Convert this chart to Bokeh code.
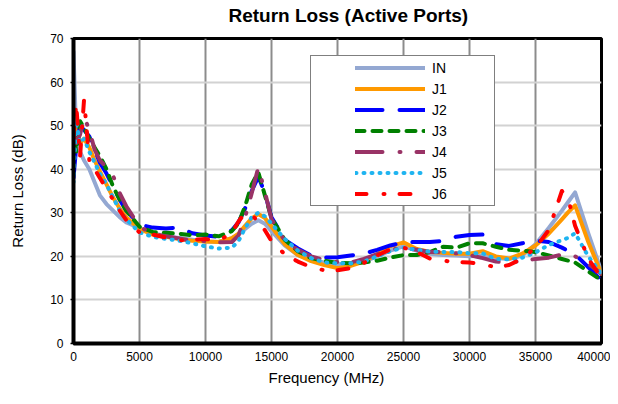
from bokeh.plotting import figure
from bokeh.models import Legend, LegendItem, FixedTicker, Title, Range1d
from bokeh.embed import file_html
from bokeh.resources import INLINE

# ---- data ----
freq = [0, 200, 500, 800, 1200, 1600, 2000, 2500, 3000, 3500, 4000,
        5000, 6000, 7000, 8000, 9000, 10000, 11000, 12000, 12500, 13000,
        13500, 14000, 14500, 15000, 16000, 17000, 18000, 19000, 20000, 21000,
        22000, 23000, 24000, 25000, 26000, 27000, 28000, 29000, 30000, 31000,
        32000, 33000, 34000, 35000, 36000, 37000, 37500, 38000, 39000, 40000]

rl_in = [67, 48, 44, 42, 40, 37, 34, 32, 30.5, 29, 27.8,
         26.5, 25.3, 24.6, 24.2, 23.8, 23.4, 23.3, 24.2, 25, 26.3,
         27.5, 28.3, 27.5, 25.8, 22.5, 20.3, 19.2, 18.6, 18.2, 18.3,
         18.8, 20, 21.3, 22.3, 21.3, 20.6, 20.3, 20.2, 20, 20.2,
         19.6, 19.4, 20.2, 22.8, 26.5, 30.5, 32.6, 34.7, 25.3, 16.5]

rl_j1 = [48, 50, 46, 47, 45, 42, 39.5, 36.5, 33.5, 31, 29,
         26.3, 25, 24.5, 24, 23.6, 23.4, 23.3, 24.2, 25.2, 27,
         28.7, 29.7, 28.8, 26.8, 22.8, 20.3, 18.9, 18, 17.3, 17.8,
         18.8, 20.5, 22.3, 23.2, 21.7, 21, 20.8, 20.6, 20.6, 21.2,
         20, 19.5, 20.6, 22.5, 25.2, 28.5, 30.2, 31.7, 23.3, 16]

rl_j2 = [38, 45, 50, 49, 47.5, 44.5, 41.5, 39, 36, 33, 30.5,
         27.3, 26.6, 26.4, 26.6, 25.3, 24.8, 24.5, 26, 27.8, 31,
         35, 38.3, 34.5, 29, 23.8, 21.8, 20.2, 19.7, 19.8, 20.2,
         20.6, 21.5, 22.5, 23.2, 23.3, 23.3, 23.5, 24.5, 24.9, 25,
         22.8, 22.4, 23, 23.6, 23.3, 22, 21.2, 20.5, 17.5, 14.5]

rl_j3 = [50, 44, 51, 49.5, 47, 45, 43, 40, 36, 33, 30.5,
         26.8, 25.6, 25.4, 25.2, 24.8, 25, 24.6, 25.8, 27.6, 31.5,
         36.5, 39.3, 34, 28.8, 23.8, 21.2, 19.6, 19, 18.5, 18.4,
         18.6, 19, 19.7, 20.3, 20.3, 21, 22.2, 22, 23, 23,
         22.2, 21.5, 21.3, 21, 20.2, 19.4, 19, 18.6, 16.5, 14.5]

rl_j4 = [48, 46, 48, 52, 49, 44.5, 42, 40.5, 38.5, 34.5, 31.5,
         26.8, 25.2, 24.6, 24.1, 23.6, 23.5, 23.2, 23.3, 24.8, 29,
         34.5, 40.4, 34.8, 28.5, 23.6, 21.5, 20, 19.2, 18.7, 18.6,
         19.4, 20.5, 21.5, 22, 21.5, 21, 21, 20.7, 20.3, 19.6,
         18.8, 18.6, 19, 19.4, 19.7, 20.4, 20.6, 20, 18.3, 16]

rl_j5 = [37, 51, 46, 47, 44, 41.5, 39, 36.5, 33.5, 30.5, 28.5,
         25.5, 24.5, 24, 23.6, 23, 22.3, 21.8, 22, 23.5, 26.5,
         29, 30, 29.2, 27.5, 24, 21.3, 19.6, 18.6, 18.4, 18.4,
         18.8, 20, 21.2, 22, 21.5, 21.1, 21, 21, 20.7, 20.7,
         19.4, 19.3, 19.7, 20.9, 22.6, 23.7, 24.3, 25.3, 20, 16]

rl_j6 = [47, 55, 43, 56, 42, 40, 38, 35.5, 33, 30.5, 28.3,
         25.5, 25, 24.3, 23.7, 23.8, 24, 23.5, 25.5, 28, 30,
         29.5, 28, 26, 23.5, 20.5, 18.8, 17.5, 16.8, 16.8, 17.3,
         18.5, 20.2, 21.6, 22, 21, 19.5, 19, 18.7, 18.6, 18.2,
         17.5, 18, 19.5, 22, 26, 35, 33, 27, 19.5, 15]

series_names = ["IN", "J1", "J2", "J3", "J4", "J5", "J6"]
series_values = [rl_in, rl_j1, rl_j2, rl_j3, rl_j4, rl_j5, rl_j6]

x_ticks = [0, 5000, 10000, 15000, 20000, 25000, 30000, 35000, 40000]
y_ticks = [0, 10, 20, 30, 40, 50, 60, 70]

# ---- styles ----
colors = ["#94A8D2", "#FF9900", "#0000FF", "#008000", "#993366", "#1FB4F0", "#FF0000"]
dashes = ["solid", "solid", "27 17", "9 8", "27 17 1 16", "1 7", "11 17 1 15"]

FONT = "Liberation Sans"

p = figure(width=610, height=388, output_backend="svg", toolbar_location=None,
           x_range=Range1d(0, 40000), y_range=Range1d(0, 70),
           min_border_left=73, min_border_right=9, min_border_top=38,
           min_border_bottom=45, title=None)
p.background_fill_color = "white"
p.border_fill_color = "white"
p.outline_line_color = "black"
p.outline_line_width = 3

renderers = []
for name, ys, c, d in zip(series_names, series_values, colors, dashes):
    r = p.line(freq, ys, line_color=c, line_width=4, line_dash=d,
               line_cap="round", line_join="round")
    renderers.append(r)

# axes
p.xaxis.ticker = FixedTicker(ticks=x_ticks)
p.yaxis.ticker = FixedTicker(ticks=y_ticks)
for ax in (p.xaxis[0], p.yaxis[0]):
    ax.axis_line_color = "black"
    ax.axis_line_width = 4
    ax.major_tick_line_color = "black"
    ax.major_tick_line_width = 1.5
    ax.minor_tick_line_color = None
    ax.major_tick_in = 0
    ax.major_label_text_font = FONT
    ax.major_label_text_font_size = "12px"
    ax.major_label_text_color = "black"
p.xaxis.major_tick_out = 0
p.xaxis.major_label_standoff = 8
p.yaxis.major_tick_out = 3
p.yaxis.major_label_standoff = 7

p.yaxis.axis_label = "Return Loss (dB)"
p.yaxis.axis_label_text_font = FONT
p.yaxis.axis_label_text_font_size = "15px"
p.yaxis.axis_label_text_font_style = "normal"
p.yaxis.axis_label_text_color = "black"
p.yaxis.axis_label_standoff = 21

# grid
p.xgrid.grid_line_color = "#8C8C8C"
p.xgrid.grid_line_width = 2
p.ygrid.grid_line_color = "#D2D2D2"
p.ygrid.grid_line_width = 2

# titles (a blank spacer panel sits between the frame and the chart title)
spacer = Title(text=" ", text_font=FONT, text_font_size="8px", standoff=2)
p.add_layout(spacer, "above")
title = Title(text="Return Loss (Active Ports)", align="left", offset=155,
              text_font=FONT, text_font_size="19px", text_font_style="bold",
              text_color="black", standoff=0)
p.add_layout(title, "above")

xlab = Title(text="Frequency (MHz)", align="left", offset=195,
             text_font=FONT, text_font_size="15px", text_font_style="normal",
             text_color="black", standoff=6)
p.add_layout(xlab, "below")

# legend
items = [LegendItem(label=n, renderers=[r]) for n, r in zip(series_names, renderers)]
legend = Legend(items=items, location=(237, 137), padding=1, spacing=0,
                glyph_width=70, glyph_height=21, label_height=21, label_width=61,
                label_standoff=7, label_text_font=FONT, label_text_font_size="14px",
                label_text_color="black", border_line_color="black",
                border_line_width=1.5, background_fill_color="white",
                background_fill_alpha=1.0, title=" ", title_location="left",
                title_text_font_size="10px", title_standoff=32, margin=0)
p.add_layout(legend)

open("out.html", "w").write(file_html(p, INLINE))
